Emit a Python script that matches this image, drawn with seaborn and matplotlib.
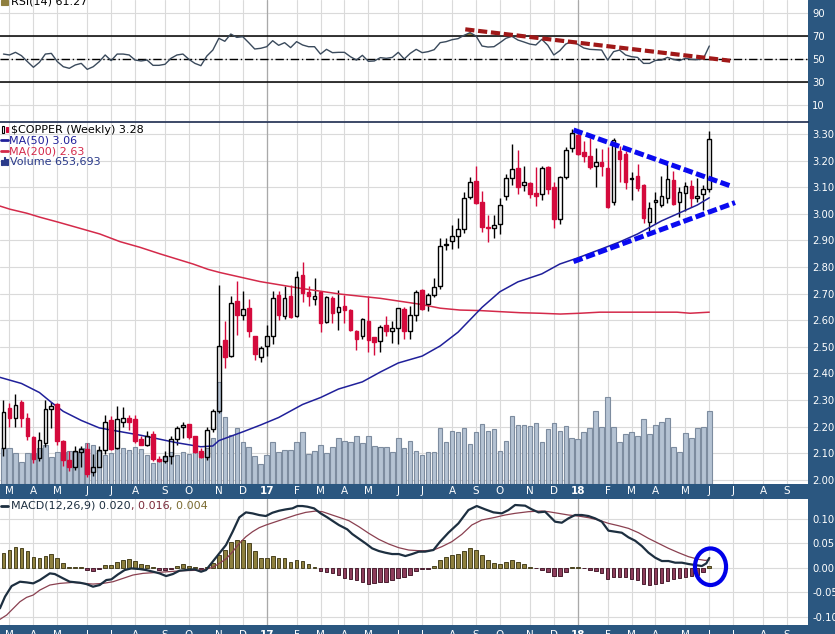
import numpy as np
import pandas as pd
import seaborn as sns
import matplotlib
matplotlib.use("Agg")
import matplotlib.pyplot as plt
from matplotlib.patches import Rectangle, Ellipse
from matplotlib.lines import Line2D
from matplotlib.ticker import FormatStrFormatter
from matplotlib.transforms import blended_transform_factory

sns.set_theme(style="white")
plt.rcParams["font.family"] = ["DejaVu Sans"]
plt.rcParams["axes.unicode_minus"] = False

# weekly $COPPER bars, first bar = week ending 2016-02-26
first_week = pd.Timestamp("2016-02-26")

opens = [2.119, 2.271, 2.232, 2.291, 2.233, 2.162, 2.081, 2.138, 2.266, 2.283,
         2.147, 2.073, 2.048, 2.104, 2.117, 2.029, 2.048, 2.112, 2.226, 2.119,
         2.216, 2.234, 2.228, 2.155, 2.132, 2.173, 2.078, 2.071, 2.090, 2.153,
         2.198, 2.211, 2.163, 2.107, 2.084, 2.190, 2.257, 2.526, 2.466, 2.673,
         2.619, 2.645, 2.541, 2.461, 2.501, 2.541, 2.695, 2.614, 2.692, 2.614,
         2.771, 2.704, 2.679, 2.706, 2.593, 2.683, 2.630, 2.652, 2.639, 2.560,
         2.539, 2.595, 2.535, 2.523, 2.583, 2.561, 2.570, 2.643, 2.561, 2.620,
         2.712, 2.659, 2.694, 2.728, 2.883, 2.897, 2.916, 2.941, 3.063, 3.123,
         3.045, 2.947, 2.945, 2.960, 3.066, 3.133, 3.173, 3.108, 3.117, 3.079,
         3.073, 3.177, 3.100, 2.982, 3.138, 3.246, 3.298, 3.231, 3.217, 3.180,
         3.193, 3.171, 3.043, 3.236, 3.224, 3.130, 3.142, 3.108, 2.970, 3.043,
         3.033, 3.058, 3.127, 3.046, 3.077, 3.104, 3.058, 3.073, 3.092]
highs = [2.300, 2.288, 2.321, 2.298, 2.251, 2.165, 2.178, 2.300, 2.291, 2.288,
         2.150, 2.107, 2.128, 2.128, 2.140, 2.098, 2.125, 2.244, 2.241, 2.276,
         2.273, 2.244, 2.244, 2.163, 2.182, 2.182, 2.090, 2.109, 2.163, 2.203,
         2.216, 2.211, 2.165, 2.119, 2.197, 2.266, 2.731, 2.595, 2.689, 2.748,
         2.711, 2.679, 2.541, 2.504, 2.583, 2.711, 2.708, 2.727, 2.733, 2.783,
         2.818, 2.727, 2.758, 2.706, 2.689, 2.689, 2.712, 2.693, 2.642, 2.564,
         2.608, 2.689, 2.535, 2.583, 2.614, 2.595, 2.645, 2.648, 2.652, 2.714,
         2.718, 2.703, 2.757, 2.910, 2.910, 2.957, 2.985, 3.083, 3.138, 3.179,
         3.087, 2.995, 2.995, 3.060, 3.148, 3.263, 3.238, 3.180, 3.119, 3.175,
         3.179, 3.179, 3.120, 3.142, 3.252, 3.317, 3.312, 3.275, 3.284, 3.249,
         3.242, 3.252, 3.284, 3.256, 3.236, 3.158, 3.186, 3.111, 3.043, 3.083,
         3.142, 3.186, 3.161, 3.102, 3.121, 3.127, 3.136, 3.108, 3.311]
lows = [2.088, 2.197, 2.200, 2.200, 2.150, 2.063, 2.069, 2.123, 2.194, 2.132,
        2.053, 2.031, 2.038, 2.048, 2.010, 2.015, 2.048, 2.098, 2.113, 2.115,
        2.200, 2.188, 2.140, 2.130, 2.125, 2.069, 2.065, 2.063, 2.059, 2.132,
        2.157, 2.153, 2.100, 2.082, 2.075, 2.178, 2.251, 2.420, 2.461, 2.545,
        2.601, 2.536, 2.451, 2.441, 2.466, 2.511, 2.601, 2.605, 2.608, 2.612,
        2.670, 2.652, 2.658, 2.555, 2.589, 2.589, 2.564, 2.589, 2.558, 2.489,
        2.529, 2.482, 2.470, 2.482, 2.541, 2.514, 2.510, 2.529, 2.529, 2.595,
        2.638, 2.634, 2.687, 2.719, 2.862, 2.867, 2.871, 2.929, 3.054, 3.035,
        2.932, 2.895, 2.907, 2.925, 3.050, 3.110, 3.073, 3.085, 3.060, 3.031,
        3.050, 3.073, 2.945, 2.962, 3.129, 3.233, 3.220, 3.194, 3.168, 3.102,
        3.143, 3.021, 3.033, 3.118, 3.093, 3.052, 3.086, 2.964, 2.935, 2.960,
        3.027, 3.039, 3.033, 2.989, 3.011, 3.027, 3.046, 3.014, 3.083]
closes = [2.254, 2.231, 2.282, 2.231, 2.165, 2.079, 2.149, 2.266, 2.278, 2.144,
          2.073, 2.048, 2.108, 2.115, 2.021, 2.048, 2.112, 2.217, 2.115, 2.228,
          2.232, 2.216, 2.147, 2.130, 2.163, 2.079, 2.069, 2.090, 2.154, 2.194,
          2.207, 2.160, 2.103, 2.084, 2.188, 2.257, 2.501, 2.461, 2.664, 2.618,
          2.642, 2.558, 2.472, 2.497, 2.539, 2.683, 2.618, 2.683, 2.610, 2.762,
          2.702, 2.689, 2.692, 2.589, 2.687, 2.627, 2.649, 2.639, 2.564, 2.529,
          2.604, 2.524, 2.516, 2.576, 2.561, 2.570, 2.645, 2.560, 2.620, 2.704,
          2.643, 2.694, 2.724, 2.878, 2.885, 2.916, 2.944, 3.058, 3.119, 3.041,
          2.950, 2.945, 2.957, 3.033, 3.135, 3.169, 3.102, 3.120, 3.076, 3.066,
          3.173, 3.092, 2.979, 3.138, 3.239, 3.305, 3.226, 3.216, 3.177, 3.193,
          3.181, 3.027, 3.277, 3.205, 3.118, 3.131, 3.098, 2.985, 3.021, 3.051,
          3.067, 3.131, 3.036, 3.081, 3.106, 3.058, 3.068, 3.092, 3.280]
volume_k = [320, 322, 275, 197, 275, 275, 320, 349, 239, 286,
            286, 295, 289, 325, 370, 346, 298, 260, 280, 320,
            320, 302, 328, 311, 260, 191, 221, 239, 289, 260,
            286, 269, 289, 280, 320, 409, 916, 602, 439, 498,
            373, 328, 251, 179, 260, 379, 289, 304, 304, 373,
            468, 269, 295, 349, 275, 328, 409, 385, 373, 430,
            364, 430, 340, 328, 334, 289, 409, 320, 385, 295,
            260, 289, 289, 498, 379, 477, 468, 498, 355, 468,
            534, 477, 490, 298, 388, 609, 528, 528, 522, 543,
            379, 490, 543, 477, 519, 409, 400, 463, 498, 653,
            507, 776, 513, 373, 445, 463, 432, 579, 445, 528,
            552, 588, 334, 284, 454, 409, 498, 507, 654]

# moving averages (week index, price)
ma50_week = [-0.6, 3, 6, 8, 10, 13, 16, 19, 23, 26, 29, 33, 35, 36, 40, 43, 46, 50,
             53, 56, 60, 63, 66, 70, 73, 76, 80, 83, 86, 90, 93, 96, 100, 103, 106,
             110, 113, 116, 118]
ma50_val = [2.385, 2.362, 2.328, 2.291, 2.257, 2.223, 2.195, 2.183, 2.167, 2.153,
            2.139, 2.124, 2.127, 2.147, 2.180, 2.206, 2.234, 2.283, 2.309, 2.341,
            2.368, 2.405, 2.439, 2.465, 2.503, 2.555, 2.648, 2.707, 2.744, 2.774,
            2.811, 2.834, 2.868, 2.894, 2.924, 2.973, 3.003, 3.033, 3.060]
ma200_week = [-0.6, 1.1, 3.9, 6.1, 8.9, 12.2, 16.1, 19.5, 22.8, 26.2, 31.7, 34.2,
              36.2, 42.9, 49.6, 56.3, 63, 69.6, 73, 76.3, 79.7, 83, 86.4, 89.7,
              93.1, 96.4, 99.7, 106.4, 112.6, 114.8, 118]
ma200_val = [3.029, 3.017, 3.002, 2.987, 2.970, 2.949, 2.924, 2.895, 2.874, 2.849,
             2.811, 2.791, 2.779, 2.745, 2.720, 2.698, 2.682, 2.660, 2.645, 2.638,
             2.636, 2.632, 2.628, 2.626, 2.623, 2.626, 2.630, 2.630, 2.630, 2.626,
             2.630]

rsi = [54.3, 53.5, 55.8, 52.9, 47.7, 42.8, 47.1, 54.3, 54.9, 47.7,
       43.3, 41.9, 44.8, 46.2, 41.0, 43.3, 47.7, 53.5, 48.6, 54.3,
       54.3, 53.5, 49.1, 48.3, 49.1, 44.5, 44.5, 45.4, 50.6, 53.5,
       54.3, 49.7, 46.2, 44.2, 52.6, 57.8, 68.0, 65.4, 71.7, 68.8,
       69.4, 64.2, 58.7, 59.3, 60.7, 65.9, 61.9, 64.2, 59.9, 65.1,
       62.2, 60.7, 60.7, 54.3, 58.4, 55.5, 55.8, 55.8, 52.0, 49.1,
       53.2, 48.0, 48.3, 51.2, 50.6, 51.4, 55.8, 50.0, 54.9, 58.4,
       55.5, 56.4, 58.1, 64.2, 65.1, 66.8, 67.7, 70.6, 72.9, 70.0,
       61.3, 60.4, 60.7, 64.2, 68.0, 69.7, 66.5, 64.8, 63.0, 62.2,
       67.1, 61.9, 53.5, 57.2, 63.0, 65.1, 62.8, 59.6, 58.4, 58.1,
       57.8, 49.1, 56.4, 57.8, 53.5, 52.0, 51.4, 46.2, 46.2, 48.8,
       49.1, 51.4, 49.7, 48.6, 50.6, 49.7, 49.4, 50.3, 61.3]

macd_week = [-0.6, 0.25, 1.36, 2.75, 3.86, 4.97, 6.08, 7.75, 8.58, 9.97, 11.08, 12.75,
             13.86, 14.97, 16.08, 17.19, 18.03, 19.14, 20.25, 21.36, 22.75, 23.86,
             25.25, 26.08, 27.19, 28.31, 29.42, 30.53, 31.92, 33.03, 33.86, 34.97,
             36.08, 37.19, 38.31, 39.42, 40.53, 41.64, 42.75, 43.86, 44.97, 46.08,
             47.19, 48.31, 49.14, 49.97, 50.81, 51.92, 53.03, 54.14, 54.97, 56.08,
             57.47, 58.31, 59.42, 60.53, 61.64, 62.75, 63.86, 64.97, 66.08, 67.19,
             68.31, 69.42, 70.48, 71.88, 72.99, 74.39, 76.06, 77.73, 79.12, 80.52,
             81.91, 83.31, 84.42, 85.53, 87.21, 88.32, 89.44, 90.55, 92.22, 93.34,
             94.45, 95.57, 96.68, 97.80, 98.91, 100.03, 101.14, 102.26, 103.37,
             104.49, 105.60, 106.72, 107.83, 108.95, 110.06, 111.18, 112.29, 113.41,
             114.52, 115.64, 116.75, 117.5, 118]
macd_val = [-0.0833, -0.0594, -0.0376, -0.0287, -0.0301, -0.0321, -0.0253, -0.0116,
            -0.0130, -0.0219, -0.0287, -0.0307, -0.0335, -0.0389, -0.0355, -0.0253,
            -0.0239, -0.0137, -0.0048, -0.0014, -0.0027, -0.0048, -0.0089, -0.0116,
            -0.0171, -0.0130, -0.0061, -0.0048, -0.0034, -0.0082, -0.0048, 0.0123,
            0.0294, 0.0464, 0.0738, 0.1031, 0.1134, 0.1113, 0.1079, 0.1059, 0.1127,
            0.1168, 0.1195, 0.1216, 0.1264, 0.1264, 0.1250, 0.1216, 0.1113, 0.1031,
            0.0963, 0.0874, 0.0786, 0.0690, 0.0594, 0.0499, 0.0396, 0.0342, 0.0307,
            0.0280, 0.0280, 0.0239, 0.0280, 0.0328, 0.0329, 0.0363, 0.0533, 0.0718,
            0.0909, 0.1182, 0.1264, 0.1196, 0.1134, 0.1114, 0.1182, 0.1285, 0.1271,
            0.1196, 0.1134, 0.1148, 0.0943, 0.0922, 0.1011, 0.1080, 0.1080, 0.1059,
            0.1011, 0.0943, 0.0759, 0.0738, 0.0717, 0.0622, 0.0553, 0.0444, 0.0308,
            0.0206, 0.0137, 0.0137, 0.0103, 0.0103, 0.0076, 0.0055, 0.0034, 0.0089,
            0.0200]
signal_week = [-0.6, 0.53, 1.64, 2.75, 3.86, 4.97, 6.08, 7.75, 9.42, 11.64, 13.31,
               14.97, 16.64, 18.31, 19.97, 21.64, 23.31, 24.97, 26.64, 28.31, 29.97,
               31.64, 33.31, 34.97, 36.08, 37.19, 38.31, 39.42, 40.53, 41.64, 42.75,
               43.86, 45.53, 47.19, 48.86, 50.53, 52.19, 53.31, 54.97, 56.64, 57.75,
               59.42, 61.08, 62.75, 64.42, 66.08, 67.75, 69.42, 70.48, 71.88, 73.28,
               74.95, 76.62, 78.29, 79.96, 82.19, 83.86, 85.53, 87.76, 89.99, 91.10,
               92.78, 94.45, 96.12, 97.80, 99.47, 101.14, 102.81, 104.49, 106.16,
               107.83, 109.50, 111.18, 112.85, 114.52, 116.19, 117.31, 118]
signal_val = [-0.1059, -0.0970, -0.0833, -0.0697, -0.0608, -0.0560, -0.0458, -0.0355,
              -0.0321, -0.0301, -0.0321, -0.0335, -0.0321, -0.0287, -0.0219, -0.0150,
              -0.0116, -0.0102, -0.0089, -0.0075, -0.0061, -0.0055, -0.0048, 0.0007,
              0.0089, 0.0178, 0.0328, 0.0499, 0.0635, 0.0738, 0.0820, 0.0874, 0.0943,
              0.1011, 0.1079, 0.1134, 0.1161, 0.1148, 0.1079, 0.1011, 0.0963, 0.0840,
              0.0704, 0.0581, 0.0485, 0.0410, 0.0362, 0.0349, 0.0349, 0.0363, 0.0431,
              0.0533, 0.0683, 0.0875, 0.0977, 0.1032, 0.1080, 0.1114, 0.1148, 0.1162,
              0.1148, 0.1114, 0.1080, 0.1059, 0.1025, 0.0977, 0.0909, 0.0861, 0.0806,
              0.0717, 0.0601, 0.0499, 0.0397, 0.0308, 0.0226, 0.0172, 0.0150, 0.0160]
hist = [0.0294, 0.0362, 0.0417, 0.0396, 0.0342, 0.0225, 0.0191, 0.0246, 0.0273, 0.0191,
        0.0089, 0.0014, 0.0014, 0.0014, -0.0048, -0.0061, -0.0034, 0.0048, 0.0048, 0.0116,
        0.0157, 0.0171, 0.0130, 0.0075, 0.0061, 0.0007, -0.0048, -0.0048, -0.0034, 0.0034,
        0.0068, 0.0041, 0.0007, -0.0027, 0.0020, 0.0102, 0.0260, 0.0362, 0.0533, 0.0567,
        0.0567, 0.0499, 0.0342, 0.0205, 0.0191, 0.0239, 0.0205, 0.0191, 0.0123, 0.0157,
        0.0137, 0.0068, 0.0020, -0.0068, -0.0096, -0.0116, -0.0150, -0.0205, -0.0232, -0.0253,
        -0.0287, -0.0335, -0.0321, -0.0287, -0.0287, -0.0253, -0.0219, -0.0184, -0.0150, -0.0061,
        -0.0027, -0.0020, 0.0034, 0.0157, 0.0212, 0.0253, 0.0280, 0.0348, 0.0396, 0.0362,
        0.0260, 0.0157, 0.0089, 0.0075, 0.0123, 0.0157, 0.0123, 0.0075, 0.0007, -0.0014,
        -0.0048, -0.0082, -0.0171, -0.0164, -0.0082, 0.0007, 0.0007, -0.0014, -0.0048, -0.0075,
        -0.0116, -0.0239, -0.0198, -0.0184, -0.0198, -0.0232, -0.0253, -0.0342, -0.0355, -0.0342,
        -0.0321, -0.0266, -0.0239, -0.0219, -0.0184, -0.0164, -0.0150, -0.0082, 0.0040]

# hand-drawn trend lines (week index, value)
rsi_trend_week, rsi_trend_val = [77.2, 121.5], [75.8, 48.5]
upper_trend_week, upper_trend_val = [95.3, 121.5], [3.315, 3.105]
lower_trend_week, lower_trend_val = [95.3, 122.3], [2.820, 3.042]

price_ticks = [2.00, 2.10, 2.20, 2.30, 2.40, 2.50, 2.60, 2.70, 2.80, 2.90, 3.00, 3.10, 3.20, 3.30]
rsi_ticks = [10, 30, 50, 70, 90]
macd_ticks = [-0.10, -0.05, 0.00, 0.05, 0.10]

# ---------------------------------------------------------------
W, H = 835, 634
STRIP = "#2b5780"
GRID = "#dadada"
YEARGRID = "#a9a9a9"
RED = "#d40a3c"


def rect(x0, y0, x1, y1):
    return [x0 / W, 1 - y1 / H, (x1 - x0) / W, (y1 - y0) / H]


fig = plt.figure(figsize=(W / 100, H / 100), dpi=100)
fig.patch.set_facecolor("white")

ax_rsi = fig.add_axes(rect(0, 0, 808, 121))
ax_vol = fig.add_axes(rect(0, 122, 808, 484), sharex=ax_rsi)
ax_main = ax_vol.twinx()
ax_macd = fig.add_axes(rect(0, 499, 808, 625), sharex=ax_rsi)
ax_main.set_zorder(ax_vol.get_zorder() + 1)
ax_main.patch.set_visible(False)

weeks = np.arange(len(closes))
o, hi, lo, c = map(np.array, (opens, highs, lows, closes))
up = c >= o
XMIN, XMAX = -0.585, 134.5
PLO, PHI = 1.984, 3.345
VMAX = 3242

months = pd.date_range("2016-03-01", "2018-09-01", freq="MS")
tick_pos = np.round((months - first_week).days / 7).astype(float)
tick_lab = [m.strftime("%y") if m.month == 1 else m.strftime("%b")[0] for m in months]
year_pos = [p for p, m in zip(tick_pos, months) if m.month == 1]

for ax in (ax_rsi, ax_vol, ax_macd):
    ax.set_xticks(tick_pos)
    ax.grid(True, color=GRID, lw=0.8)
    ax.set_axisbelow(True)
    for p in year_pos:
        ax.axvline(p, color=YEARGRID, lw=0.9, zorder=0.6)
    ax.tick_params(axis="x", bottom=False, labelbottom=False)
for ax in (ax_rsi, ax_vol, ax_main, ax_macd):
    for s in ax.spines.values():
        s.set_visible(False)

# ---- RSI panel ----
rsi_arr = np.array(rsi)
ax_rsi.fill_between(weeks, rsi_arr, 70, where=rsi_arr > 70, interpolate=True,
                    color="#8f7f3f", lw=0, zorder=2)
sns.lineplot(x=weeks, y=rsi_arr, ax=ax_rsi, color="#3a4a5c", linewidth=1.0, zorder=3)
ax_rsi.axhline(70, color="black", lw=1.1, zorder=2.5)
ax_rsi.axhline(30, color="black", lw=1.1, zorder=2.5)
ax_rsi.axhline(50, color="black", lw=1.0, ls=(0, (6, 2, 1, 2)), zorder=2.5)
ax_rsi.plot(rsi_trend_week, rsi_trend_val, color="#a01818", lw=3.0,
            ls=(0, (2.2, 0.9)), zorder=4, solid_capstyle="butt")
ax_rsi.set_ylim(-3.9, 101.3)
ax_rsi.set_yticks(rsi_ticks)

# ---- volume (underneath the candles) ----
ax_vol.bar(weeks, volume_k, width=0.75, color="#b5c3d3", edgecolor="#7d8c9f",
           linewidth=0.8, zorder=2)
ax_vol.set_ylim(0, VMAX)
ax_vol.set_yticks([(p - PLO) / (PHI - PLO) * VMAX for p in price_ticks])
ax_vol.tick_params(axis="y", left=False, right=False, labelleft=False, labelright=False)

# ---- candles (hollow up-bars, filled red down-bars) and averages ----
top = np.maximum(o, c)
bot = np.minimum(o, c)
wick_col = np.where(up, "black", RED)
ax_main.vlines(weeks, top, hi, colors=wick_col, lw=1.0, zorder=2)
ax_main.vlines(weeks, lo, bot, colors=wick_col, lw=1.0, zorder=2)
body_h = np.maximum(top - bot, 0.004)
ax_main.bar(weeks[up], body_h[up], bottom=bot[up], width=0.62, facecolor="none",
            edgecolor="black", linewidth=1.0, zorder=3)
ax_main.bar(weeks[~up], body_h[~up], bottom=bot[~up], width=0.62, facecolor=RED,
            edgecolor=RED, linewidth=1.0, zorder=3)
sns.lineplot(x=ma200_week, y=ma200_val, ax=ax_main, color="#d42a4a", linewidth=1.1, zorder=2.5)
sns.lineplot(x=ma50_week, y=ma50_val, ax=ax_main, color="#20209a", linewidth=1.1, zorder=2.5)
dash_blue = dict(color="#0a0af0", lw=3.6, ls=(0, (1.9, 0.7)), zorder=5, solid_capstyle="butt")
ax_main.plot(upper_trend_week, upper_trend_val, **dash_blue)
ax_main.plot(lower_trend_week, lower_trend_val, **dash_blue)
ax_main.set_ylim(PLO, PHI)
ax_main.set_yticks(price_ticks)
ax_main.yaxis.set_major_formatter(FormatStrFormatter("%.2f"))
ax_main.spines["top"].set_visible(True)
ax_main.spines["top"].set_color("#1b2a4e")
ax_main.spines["top"].set_linewidth(1.2)

# ---- MACD panel ----
h = np.array(hist)
ax_macd.bar(weeks, h, width=0.62, color=np.where(h >= 0, "#8e803e", "#8d3d5b"),
            edgecolor=np.where(h >= 0, "#4a4320", "#4a1f30"), linewidth=0.7, zorder=2)
sns.lineplot(x=signal_week, y=signal_val, ax=ax_macd, color="#8a4050", linewidth=0.9, zorder=3)
sns.lineplot(x=macd_week, y=macd_val, ax=ax_macd, color="#1d2f40", linewidth=1.6, zorder=4)
ax_macd.add_patch(Ellipse((118.2, 0.002), 5.2, 0.075, fill=False, edgecolor="#0000e8",
                          lw=3.0, zorder=6, clip_on=False))
ax_macd.set_ylim(-0.1174, 0.1408)
ax_macd.set_yticks(macd_ticks)
ax_macd.yaxis.set_major_formatter(FormatStrFormatter("%.2f"))

for ax in (ax_rsi, ax_macd):
    ax.yaxis.tick_right()
for ax in (ax_rsi, ax_main, ax_macd):
    ax.tick_params(axis="y", right=False, left=False, labelright=True, labelleft=False,
                   labelcolor="white", labelsize=7.2, pad=3, length=0)
for ax in (ax_rsi, ax_vol, ax_main, ax_macd):
    ax.set_xlim(XMIN, XMAX)
    ax.set_xlabel("")
    ax.set_ylabel("")

# ---- blue strips (right axis and date bands) ----
fig.patches.append(Rectangle((808 / W, 0), 27 / W, 1, transform=fig.transFigure,
                             color=STRIP, zorder=-1))
fig.patches.append(Rectangle((0, 1 - 499 / H), 1, 15 / H, transform=fig.transFigure,
                             color=STRIP, zorder=-1))
fig.patches.append(Rectangle((0, 0), 1, 9 / H, transform=fig.transFigure,
                             color=STRIP, zorder=-1))
band = blended_transform_factory(ax_main.transData, fig.transFigure)
for p, lab, m in zip(tick_pos, tick_lab, months):
    for yb in (491.5, 635.0):
        ax_main.text(p, 1 - yb / H, lab, transform=band, ha="center", va="center",
                     color="white", fontsize=7.5,
                     fontweight="bold" if m.month == 1 else "normal", clip_on=False)


# ---- header texts ----
def ftext(x, y, s, color):
    return fig.text(x / W, 1 - y / H, s, color=color, fontsize=8, va="center",
                    ha="left", parse_math=False)


def icon(x, y, w, hgt, color, fill=True):
    fig.patches.append(Rectangle((x / W, 1 - (y + hgt) / H), w / W, hgt / H,
                                 transform=fig.transFigure, facecolor=color if fill else "none",
                                 edgecolor=color, lw=0.8, zorder=5))


icon(1, 0, 7, 5, "#8f7f3f")
ftext(11, 1.0, "RSI(14) 61.27", "black")

icon(1.5, 126, 2.5, 7, "black", fill=False)
icon(5.5, 127, 2.5, 5, RED)
ftext(11, 129.5, "$COPPER (Weekly) 3.28", "black")
fig.add_artist(Line2D([1 / W, 8 / W], [1 - 140.5 / H] * 2, color="#20209a", lw=2))
ftext(9, 140.5, "MA(50) 3.06", "#20209a")
fig.add_artist(Line2D([1 / W, 8 / W], [1 - 151 / H] * 2, color="#d42a4a", lw=2))
ftext(9, 151, "MA(200) 2.63", "#d42a4a")
for k, hh in enumerate((5, 8, 6)):
    icon(1 + 2.5 * k, 165 - hh, 1.8, hh, "#2a3a8a")
ftext(9.5, 161.5, "Volume 653,693", "#2a3a8a")

fig.add_artist(Line2D([1 / W, 8 / W], [1 - 505.5 / H] * 2, color="#1d2f40", lw=2))
t1 = ftext(11, 505.5, "MACD(12,26,9) 0.020", "#1d2f40")
a2 = fig.add_artist(plt.Annotation(", 0.016", xy=(1, 0), xycoords=t1, va="bottom",
                                   ha="left", color="#7a2a3a", fontsize=8))
fig.add_artist(plt.Annotation(", 0.004", xy=(1, 0), xycoords=a2, va="bottom",
                              ha="left", color="#7a6a30", fontsize=8))

fig.savefig("out.png", dpi=100)
